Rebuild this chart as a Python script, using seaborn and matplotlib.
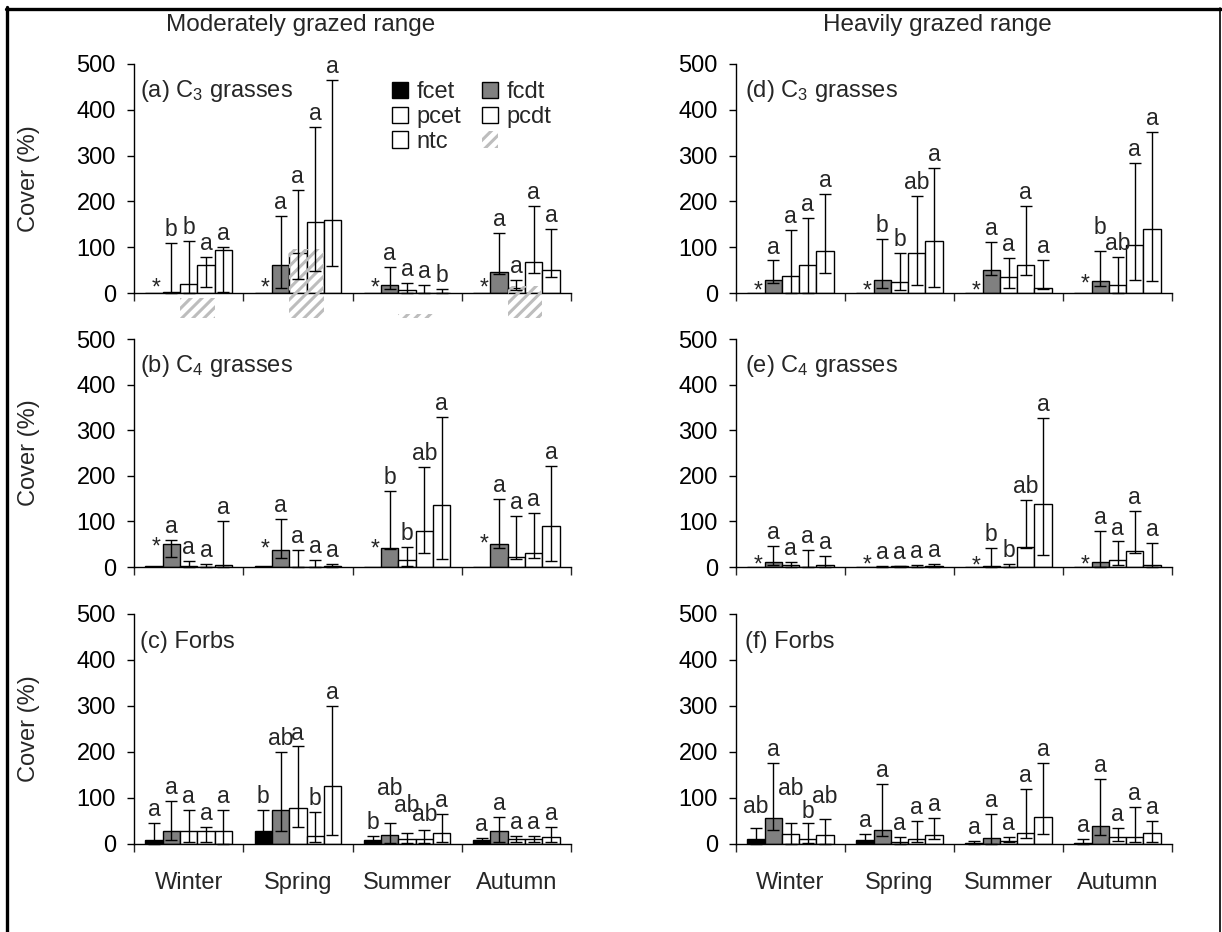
import numpy as np
import pandas as pd
import seaborn as sns
import matplotlib
matplotlib.use("Agg")
import matplotlib.pyplot as plt
from matplotlib.patches import Patch, Rectangle
from matplotlib.lines import Line2D

# ---------------- data ----------------
seasons = ["Winter", "Spring", "Summer", "Autumn"]
treatments = ["fcet", "fcdt", "pcet", "pcdt", "ntc"]
nan = np.nan

# rows = treatments (fcet, fcdt, pcet, pcdt, ntc), columns = seasons
a_mean = [[0, 0, 0, 0], [2, 62, 17, 45], [20, 87, 6, 12], [62, 154, 1, 68], [93, 159, 1, 51]]
a_hi = [[nan] * 4, [109, 169, 56, 132], [114, 225, 22, 28], [78, 363, 17, 191], [100, 465, 9, 140]]
a_lo = [[nan] * 4, [0, 11, 9, 42], [0, 31, 1, 6], [14, 49, 0, 44], [2, 58, 0, 35]]
a_lab = [["*"] * 4, ["b", "a", "a", "a"], ["b", "a", "a", "a"], ["a", "a", "a", "a"], ["a", "a", "b", "a"]]
a_star = [11, 11, 11, 11]

b_mean = [[2, 2, 0, 0], [50, 37, 42, 50], [2, 0, 16, 22], [1, 0, 78, 31], [5, 3, 135, 90]]
b_hi = [[nan] * 4, [59, 106, 166, 149], [13, 37, 44, 111], [7, 16, 220, 119], [100, 6, 329, 222]]
b_lo = [[nan] * 4, [22, 20, 40, 42], [0, 0, 2, 17], [0, 0, 31, 20], [0, 0, 17, 13]]
b_lab = [["*"] * 4, ["a", "a", "b", "a"], ["a", "a", "b", "a"], ["a", "a", "ab", "a"], ["a", "a", "a", "a"]]
b_star = [44, 40, 40, 50]

c_mean = [[9, 28, 9, 9], [28, 73, 20, 28], [28, 78, 11, 11], [28, 18, 11, 11], [28, 127, 25, 16]]
c_hi = [[46, 73, 18, 14], [94, 201, 46, 58], [74, 212, 25, 18], [36, 69, 30, 18], [73, 301, 65, 36]]
c_lo = [[1, 3, 3, 5], [9, 28, 3, 4], [5, 36, 3, 4], [5, 5, 3, 4], [1, 20, 5, 5]]
c_lab = [["a", "b", "b", "a"], ["a", "ab", "ab", "a"], ["a", "a", "ab", "a"], ["a", "b", "ab", "a"], ["a", "a", "a", "a"]]
c_star = None

d_mean = [[0, 0, 0, 0], [29, 29, 51, 26], [37, 23, 36, 18], [62, 88, 62, 105], [91, 113, 11, 140]]
d_hi = [[nan] * 4, [71, 118, 112, 91], [138, 88, 76, 78], [164, 212, 189, 284], [217, 272, 73, 352]]
d_lo = [[nan] * 4, [21, 11, 39, 15], [0, 7, 12, 0], [0, 18, 39, 29], [43, 14, 9, 26]]
d_lab = [["*"] * 4, ["a", "b", "a", "b"], ["a", "b", "a", "ab"], ["a", "ab", "a", "a"], ["a", "a", "a", "a"]]
d_star = [5, 5, 5, 20]

e_mean = [[0, 0, 0, 0], [11, 1, 2, 11], [5, 2, 1, 16], [0, 1, 44, 34], [5, 2, 138, 5]]
e_hi = [[nan] * 4, [46, 2, 42, 78], [11, 3, 7, 56], [37, 5, 146, 123], [24, 7, 327, 53]]
e_lo = [[nan] * 4, [5, 0, 0, 0], [0, 1, 0, 5], [0, 0, 42, 31], [0, 0, 26, 0]]
e_lab = [["*"] * 4, ["a", "a", "b", "a"], ["a", "a", "b", "a"], ["a", "a", "ab", "a"], ["a", "a", "a", "a"]]
e_star = [4, 5, 2, 4]

f_mean = [[11, 9, 3, 2], [56, 30, 14, 39], [22, 5, 7, 15], [11, 11, 25, 15], [20, 20, 58, 25]]
f_hi = [[34, 22, 7, 10], [176, 131, 65, 142], [46, 16, 16, 34], [46, 50, 120, 81], [54, 57, 176, 50]]
f_lo = [[1, 3, 0, 0], [30, 18, 1, 20], [1, 1, 5, 7], [3, 4, 12, 5], [1, 10, 21, 5]]
f_lab = [["ab", "a", "a", "a"], ["a", "a", "a", "a"], ["ab", "a", "a", "a"], ["b", "a", "a", "a"], ["ab", "a", "a", "a"]]
f_star = None

# letter heights placed by hand in the original (panel, treatment, season) -> baseline value
label_y_override = {
    ("c", 1, 2): 107, ("c", 2, 2): 70, ("c", 3, 2): 49,
    ("f", 0, 0): 67, ("f", 2, 0): 107, ("f", 4, 0): 89, ("f", 3, 0): 56,
    ("d", 1, 3): 128,
}

# faint hatched artefact series visible in panel (a)
hatch_top = [-12, 95, -46, 15]
hatch_bottom = -55

panel_titles = {"a": "(a) C$_3$ grasses", "b": "(b) C$_4$ grasses", "c": "(c) Forbs",
                "d": "(d) C$_3$ grasses", "e": "(e) C$_4$ grasses", "f": "(f) Forbs"}
col_titles = ["Moderately grazed range", "Heavily grazed range"]
colors = {"fcet": "black", "fcdt": "#808080", "pcet": "white", "pcdt": "white", "ntc": "white"}

panels = {
    "a": (a_mean, a_lo, a_hi, a_lab, a_star),
    "b": (b_mean, b_lo, b_hi, b_lab, b_star),
    "c": (c_mean, c_lo, c_hi, c_lab, c_star),
    "d": (d_mean, d_lo, d_hi, d_lab, d_star),
    "e": (e_mean, e_lo, e_hi, e_lab, e_star),
    "f": (f_mean, f_lo, f_hi, f_lab, f_star),
}

# ---------------- style ----------------
sns.set_theme(style="white")
plt.rcParams["font.family"] = ["Liberation Sans", "DejaVu Sans"]
plt.rcParams["mathtext.fontset"] = "custom"
plt.rcParams["mathtext.rm"] = "Liberation Sans"
plt.rcParams["mathtext.it"] = "Liberation Sans"
plt.rcParams["hatch.linewidth"] = 2.2

W, H = 1222, 932
fig = plt.figure(figsize=(W / 100, H / 100), dpi=100)
fig.patch.set_facecolor("white")

FS = 17
LFS = 16.5

# axes rectangles in pixels: left, right, top(500), bottom(0)
boxes = {
    "a": (134, 571, 64, 293), "b": (134, 571, 339, 567), "c": (134, 571, 614, 844),
    "d": (736, 1172, 64, 293), "e": (736, 1172, 339, 567), "f": (736, 1172, 614, 844),
}

for key, (mean, lo, hi, lab, star) in panels.items():
    l, r, t, b = boxes[key]
    ax = fig.add_axes([l / W, 1 - b / H, (r - l) / W, (b - t) / H])
    rows = []
    for ti, tr in enumerate(treatments):
        for si, s in enumerate(seasons):
            rows.append({"season": s, "treatment": tr, "cover": mean[ti][si]})
    df = pd.DataFrame(rows)
    sns.barplot(data=df, x="season", y="cover", hue="treatment", order=seasons,
                hue_order=treatments, palette=colors, edgecolor="black", linewidth=1.0,
                width=0.79, gap=0, errorbar=None, legend=False, saturation=1, ax=ax)

    bars = sorted(ax.patches, key=lambda p: p.get_x())
    for idx, p in enumerate(bars):
        si, ti = divmod(idx, 5)
        x = p.get_x() + p.get_width() / 2
        v = mean[ti][si]
        h = hi[ti][si]
        lw = lo[ti][si]
        text = lab[ti][si]
        if text == "*":
            ax.text(x + 0.02, star[si], "*", ha="center", va="center", fontsize=LFS,
                    clip_on=False)
            continue
        if not np.isnan(h):
            ax.errorbar([x], [v], yerr=[[v - lw], [h - v]], fmt="none", ecolor="black",
                        elinewidth=1.0, capsize=4, capthick=1.0, clip_on=False, zorder=5)
        y_lab = label_y_override.get((key, ti, si))
        if y_lab is None:
            ax.annotate(text, (x, h), xytext=(0, 5), textcoords="offset points",
                        ha="center", va="baseline", fontsize=LFS, annotation_clip=False)
        else:
            ax.text(x, y_lab, text, ha="center", va="baseline", fontsize=LFS, clip_on=False)

    if key == "a":
        for si, top in enumerate(hatch_top):
            p2 = bars[si * 5 + 2]
            p3 = bars[si * 5 + 3]
            x0 = p2.get_x()
            x1 = p3.get_x() + p3.get_width()
            ax.add_patch(Rectangle((x0, hatch_bottom), x1 - x0, top - hatch_bottom,
                                   facecolor="none", edgecolor="#bdbdbd", hatch="///",
                                   linewidth=0, clip_on=False, zorder=4))

    ax.set_xlim(-0.5, 3.5)
    ax.set_ylim(0, 500)
    ax.set_yticks(range(0, 501, 100))
    ax.tick_params(axis="y", direction="out", length=5, width=1, pad=8, labelsize=FS,
                   left=True, colors="black")
    ax.set_xticks([-0.5, 0.5, 1.5, 2.5, 3.5])
    ax.set_xticklabels([])
    ax.tick_params(axis="x", which="major", direction="out", length=6, width=1,
                   bottom=True)
    ax.set_xticks([0, 1, 2, 3], minor=True)
    if key in ("c", "f"):
        ax.set_xticklabels(seasons, minor=True)
    else:
        ax.set_xticklabels([], minor=True)
    ax.tick_params(axis="x", which="minor", length=0, pad=20, labelsize=FS)
    ax.set_xlabel("")
    if key in ("a", "b", "c"):
        ax.set_ylabel("Cover (%)", fontsize=FS)
        ax.yaxis.set_label_coords(-0.215, 0.5)
    else:
        ax.set_ylabel("")
    for sp in ("top", "right"):
        ax.spines[sp].set_visible(False)
    for sp in ("left", "bottom"):
        ax.spines[sp].set_color("black")
        ax.spines[sp].set_linewidth(1.0)
    ax.set_facecolor("none")
    ax.text(0.013 if key in ("a", "b", "c") else 0.02, 0.88, panel_titles[key],
            transform=ax.transAxes, ha="left", va="center", fontsize=FS)

    if key == "a":
        handles = [Patch(facecolor=colors["fcet"], edgecolor="black", linewidth=1),
                   Patch(facecolor=colors["pcet"], edgecolor="black", linewidth=1),
                   Patch(facecolor=colors["ntc"], edgecolor="black", linewidth=1),
                   Patch(facecolor=colors["fcdt"], edgecolor="black", linewidth=1),
                   Patch(facecolor=colors["pcdt"], edgecolor="black", linewidth=1),
                   Patch(facecolor="white", edgecolor="#bdbdbd", hatch="///", linewidth=0)]
        labels = ["fcet", "pcet", "ntc", "fcdt", "pcdt", ""]
        ax.legend(handles, labels, ncol=2, loc="upper left", bbox_to_anchor=(0.59, 0.925),
                  frameon=False, fontsize=FS, handlelength=0.68, handleheight=0.68,
                  handletextpad=0.35, columnspacing=0.9, labelspacing=0.12,
                  borderaxespad=0, borderpad=0)

fig.text(301 / W, 1 - 25 / H, col_titles[0], ha="center", va="center", fontsize=17.5)
fig.text(937 / W, 1 - 25 / H, col_titles[1], ha="center", va="center", fontsize=17.5)

# frame around the figure
fig.add_artist(Line2D([7.5 / W, 7.5 / W], [0, 1 - 7 / H], color="black", linewidth=2.4,
                      transform=fig.transFigure))
fig.add_artist(Line2D([6 / W, 1221 / W], [1 - 8.5 / H, 1 - 8.5 / H], color="black",
                      linewidth=2.4, transform=fig.transFigure))
fig.add_artist(Line2D([1219.5 / W, 1219.5 / W], [0, 1 - 8 / H], color="black",
                      linewidth=1.2, transform=fig.transFigure))

fig.savefig("out.png", dpi=100, facecolor="white")
